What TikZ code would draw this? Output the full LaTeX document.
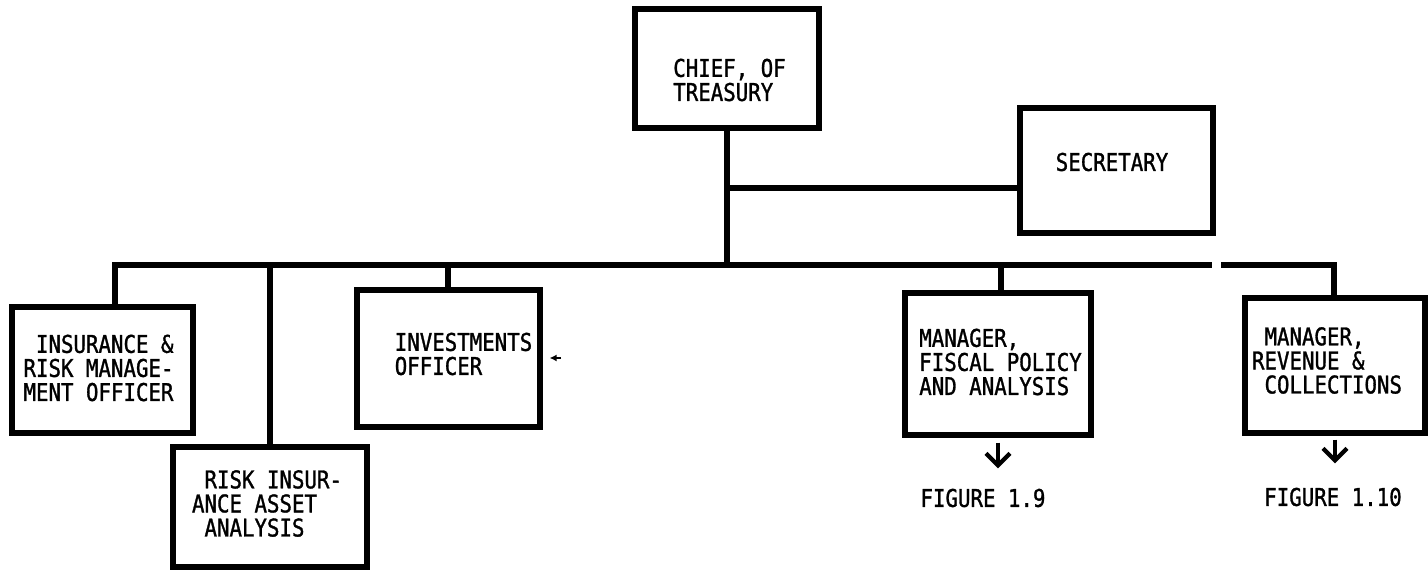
\documentclass[tikz,border=0pt]{standalone}
\usepackage{fontspec}
\newfontfamily\typefont[FakeStretch=0.85,FakeBold=1.2]{DejaVu Sans Mono}
\usetikzlibrary{arrows.meta}

\begin{document}
\begin{tikzpicture}[x=0.02cm,y=-0.02cm,
		chartbox/.style={draw,line width=3pt,inner sep=0pt},
		boxtext/.style={inner sep=0pt,align=left,font=\typefont\fontsize{13.9}{13.7}\selectfont},
		wire/.style={line width=3pt},
		pointer/.style={line width=2.4pt,-{Straight Barb[width=0.48cm,length=0.24cm,line width=2.4pt]}}]
			\useasboundingbox (0,0) rectangle (1428,570);
			% boxes
			\node[chartbox,minimum width=3.68cm,minimum height=2.38cm] (chief) at (727,68.5) {};
			\node[chartbox,minimum width=3.86cm,minimum height=2.50cm] (sec) at (1116.5,170.5) {};
			\node[chartbox,minimum width=3.62cm,minimum height=2.52cm] (ins) at (102.5,370) {};
			\node[chartbox,minimum width=3.88cm,minimum height=2.40cm] (risk) at (270,507) {};
			\node[chartbox,minimum width=3.66cm,minimum height=2.74cm] (inv) at (448.5,358.5) {};
			\node[chartbox,minimum width=3.72cm,minimum height=2.84cm] (fis) at (998,364) {};
			\node[chartbox,minimum width=3.60cm,minimum height=2.70cm] (rev) at (1335,365.5) {};
			% texts
			\node[boxtext] (chieftxt) at (729.5,80) {CHIEF, OF\\TREASURY};
			\node[boxtext] (sectxt) at (1112,162) {SECRETARY};
			\node[boxtext] (instxt) at (98.5,368) {\hphantom{M}INSURANCE \&\\RISK MANAGE-\\MENT OFFICER};
			\node[boxtext] (risktxt) at (267,503.5) {\hphantom{M}RISK INSUR-\\ANCE ASSET\\\hphantom{M}ANALYSIS};
			\node[boxtext] (invtxt) at (463.5,354) {INVESTMENTS\\OFFICER};
			\node[boxtext] (fistxt) at (1000.5,362) {MANAGER,\\FISCAL POLICY\\AND ANALYSIS};
			\node[boxtext] (revtxt) at (1327,360.5) {\hphantom{M}MANAGER,\\REVENUE \&\\\hphantom{M}COLLECTIONS};
			\node[boxtext] (fig9) at (983,498) {FIGURE 1.9};
			\node[boxtext] (fig10) at (1333,497) {FIGURE 1.10};
			% lines
			\coordinate (busL) at (115,265);
			\coordinate (busR) at (1334,265);
			\coordinate (gapL) at (1212,265);
			\coordinate (gapR) at (1221,265);
			\coordinate (split) at (728,188);
			\draw[wire] (chief.south) -- (chief.south |- busL);
			\draw[wire] (split) -- (split -| sec.west);
			\draw[wire] (ins.north -| busL) -- (busL) -- (gapL);
			\draw[wire] (gapR) -- (busR) -- (rev.north -| busR);
			\foreach \n/\x in {risk/270,inv/448,fis/1001}{
				\coordinate (tap\n) at (\x,265);
				\draw[wire] (tap\n) -- (tap\n |- \n.north);
			}
			\draw[pointer,shorten <=0.1cm,shorten >=0.4cm] (fis.south) -- (fis.south |- fig9.north);
			\draw[pointer,shorten <=0.08cm,shorten >=0.48cm] (rev.south) -- (rev.south |- fig10.north);
			\coordinate (nick) at (561,358);
			\draw[line width=0.8pt,-{Latex[length=4pt,width=4pt]},shorten >=0.14cm] (nick) -- (inv.east |- nick);
		\end{tikzpicture}
\end{document}
